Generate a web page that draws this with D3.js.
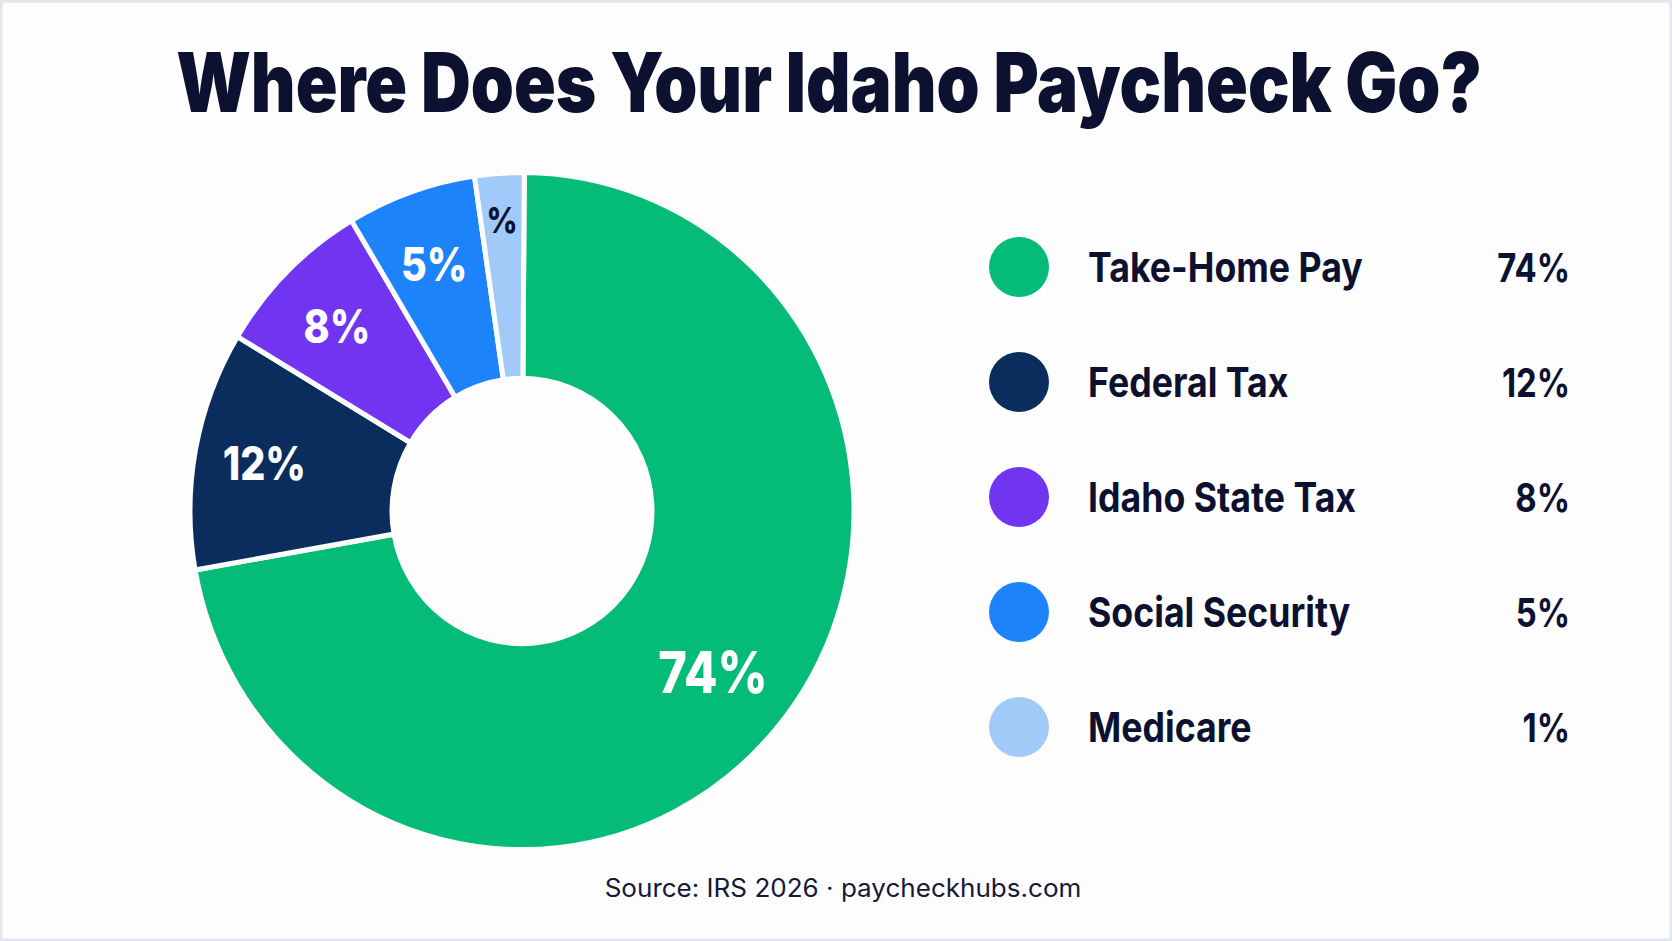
<!DOCTYPE html>
<html>
<head>
<meta charset="utf-8">
<script src="https://cdn.jsdelivr.net/npm/d3@7"></script>
<style>
  html, body { margin: 0; padding: 0; background: #fdfdfd; }
  svg { display: block; font-family: Inter, "Noto Sans", sans-serif; }
</style>
</head>
<body>
<div id="chart"></div>
<script>
// ----- Data -----
const categories = ["Take-Home Pay", "Federal Tax", "Idaho State Tax", "Social Security", "Medicare"];
// share of the ring each slice takes, as drawn
const sliceShares = [72.1, 11.4, 7.8, 6.3, 2.4];
// percentages printed in the legend
const legendValues = [74, 12, 8, 5, 1];
// text printed inside each slice (the thin one only shows "%")
const sliceLabels = ["74%", "12%", "8%", "5%", "%"];
const colors = ["#05bb78", "#0b2d5d", "#7135f1", "#1c83fb", "#a2caf9"];

const titleText = "Where Does Your Idaho Paycheck Go?";
const footerText = "Source: IRS 2026 \u00b7 paycheckhubs.com";

const width = 1672;
const height = 941;
const ink = "#0c1130";

const svg = d3.select("#chart")
    .append("svg")
    .attr("width", width)
    .attr("height", height)
    .attr("viewBox", `0 0 ${width} ${height}`);

svg.append("rect")
    .attr("x", 1).attr("y", 1)
    .attr("width", width - 2).attr("height", height - 2)
    .attr("fill", "#fdfdfd")
    .attr("stroke", "#e2e5eb")
    .attr("stroke-width", 3);

// squeeze text horizontally (the original face is narrower than Inter)
function squeeze(sel, factor) {
    sel.each(function () {
        const len = this.getComputedTextLength();
        d3.select(this)
            .attr("textLength", len * factor)
            .attr("lengthAdjust", "spacingAndGlyphs");
    });
}

// Title, scaled horizontally to the width it has in the original
const title = svg.append("g");
const titleNode = title.append("text")
    .attr("x", 0)
    .attr("y", 0)
    .attr("text-anchor", "middle")
    .style("font-size", "82px")
    .style("font-weight", 900)
    .style("fill", ink)
    .text(titleText);
const titleK = 1306 / titleNode.node().getComputedTextLength();
title.attr("transform", `translate(829,112) scale(${titleK},1)`);

// ----- Donut -----
const cx = 522, cy = 511;
const outerR = 332, innerR = 130;

const rows = categories.map((c, i) => ({
    name: c,
    share: sliceShares[i],
    value: legendValues[i],
    label: sliceLabels[i],
    color: colors[i]
}));

const pie = d3.pie()
    .sort(null)
    .startAngle(0.007)
    .endAngle(0.007 + 2 * Math.PI)
    .value(d => d.share);

const arc = d3.arc().innerRadius(innerR).outerRadius(outerR);

// the ring in the original is a touch taller than wide
const donut = svg.append("g").attr("transform", `translate(${cx},${cy}) scale(1,1.02)`);
const labelsG = svg.append("g").attr("transform", `translate(${cx},${cy})`);

const arcs = pie(rows);

donut.selectAll("path")
    .data(arcs)
    .enter().append("path")
    .attr("d", arc)
    .attr("fill", d => d.data.color)
    .attr("stroke", "#fdfdfd")
    .attr("stroke-width", 5)
    .attr("stroke-linejoin", "miter");

// labels: thin slices get pushed outward, the big one sits a bit inward
const labelRadius = d => {
    const a = d.endAngle - d.startAngle;
    return a < 0.2 ? 292 : (a > Math.PI ? 250 : 262);
};

labelsG.selectAll(".slice-label")
    .data(arcs)
    .enter().append("text")
    .attr("class", "slice-label")
    .attr("x", d => Math.sin((d.startAngle + d.endAngle) / 2) * labelRadius(d))
    .attr("y", d => -Math.cos((d.startAngle + d.endAngle) / 2) * labelRadius(d))
    .attr("dy", "0.36em")
    .attr("text-anchor", "middle")
    .style("font-weight", 800)
    .style("font-size", d => d.data.share > 50 ? "58px" : (d.data.share < 4 ? "36px" : "47px"))
    .style("fill", d => d.data.share < 4 ? ink : "#ffffff")
    .text(d => d.data.label)
    .call(squeeze, 0.84);

// ----- Legend -----
const legendY = d3.scalePoint()
    .domain(categories)
    .range([267, 727]);

const legend = svg.append("g")
    .selectAll("g")
    .data(rows)
    .enter().append("g")
    .attr("transform", d => `translate(0, ${legendY(d.name)})`);

legend.append("circle")
    .attr("cx", 1019)
    .attr("cy", 0)
    .attr("r", 30)
    .attr("fill", d => d.color);

legend.append("text")
    .attr("x", 1088)
    .attr("y", 15)
    .style("font-size", "41px")
    .style("font-weight", 700)
    .style("fill", ink)
    .text(d => d.name)
    .call(squeeze, 0.87);

legend.append("text")
    .attr("x", 1570)
    .attr("y", 15)
    .attr("text-anchor", "end")
    .style("font-size", "40px")
    .style("font-weight", 700)
    .style("fill", ink)
    .text(d => d.value + "%")
    .call(squeeze, 0.82);

// Footer
const footer = svg.append("g");
const footerNode = footer.append("text")
    .attr("x", 0)
    .attr("y", 0)
    .attr("text-anchor", "middle")
    .style("font-size", "25px")
    .style("font-weight", 400)
    .style("fill", "#15193a")
    .text(footerText);
const footerK = 477 / footerNode.node().getComputedTextLength();
footer.attr("transform", `translate(843,897) scale(${footerK},1)`);
</script>
</body>
</html>
